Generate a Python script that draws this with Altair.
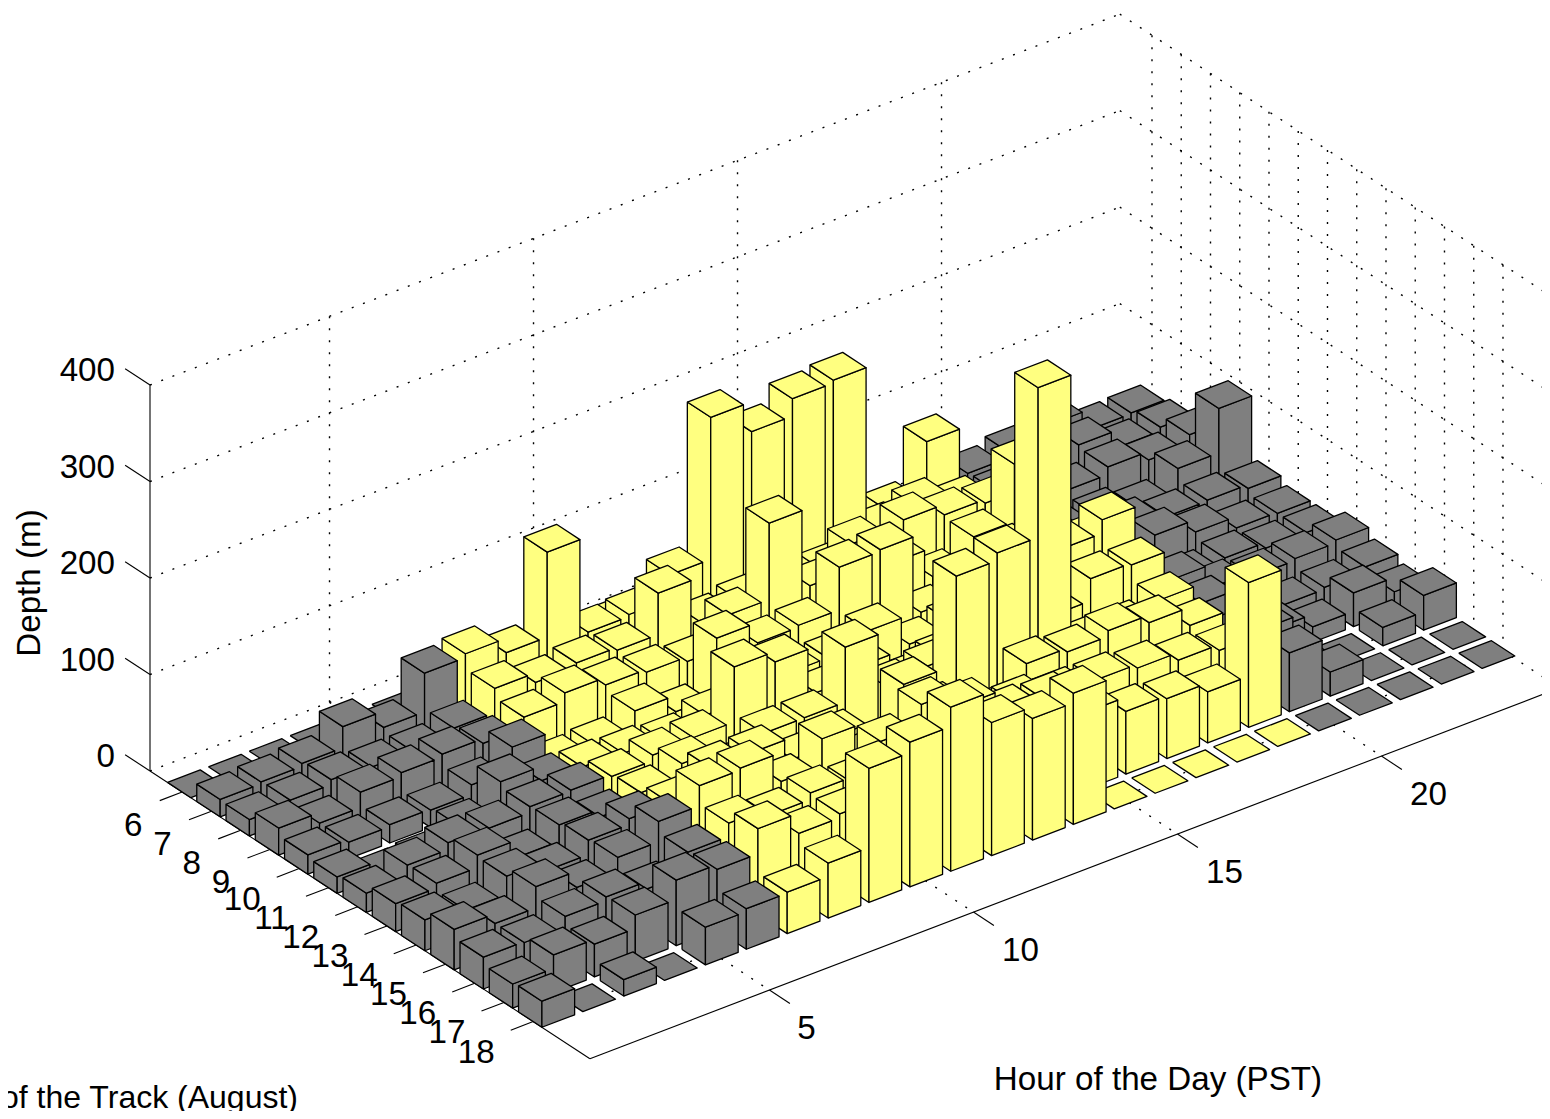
import altair as alt
import pandas as pd

alt.data_transformers.disable_max_rows()

# Depth (m): one list per day of the track, hours 1 to 24
days = list(range(6, 19))
hours = list(range(1, 25))
d06 = [0,0,0,0,0,0, 8,19,14,19,14,14,14,14,14,8,14,24,78, 29,35,47,26,27]
d07 = [18,20,23,45,28,68, 72,57,145,46,48,73,220,189,207,210,39,48,34, 30,29,46,28,32]
d08 = [17,21,26,23,23,31, 56,46,50,47,90,45,50,45,50,45,69,58,54, 29,35,43,34,44]
d09 = [28,17,33,37,40,35, 46,55,47,44,39,71,150,69,96,60,30,55,114, 29,29,21,45,91]
d10 = [20,17,19,18,28,51, 19,21,40,23,83,62,64,108,110,29,39,60,60, 29,39,31,32,28]
d11 = [17,2,4,21,51,36, 34,32,29,39,60,50,50,62,32,39,50,60,71, 39,48,35,23,22]
d12 = [20,33,40,39,45,46, 44,50,52,109,98,50,60,29,39,39,50,102,116, 29,24,28,22,22]
d13 = [29,34,47,29,46,38, 47,61,39,60,60,117,60,65,39,39,68,91,89, 58,34,29,31,34]
d14 = [32,26,45,35,50,56, 56,76,76,53,60,34,50,178,186,341,60,60,73, 53,39,19,21,26]
d15 = [42,32,54,37,52,73, 94,96,66,94,60,118,71,55,91,87,93,85,66, 39,29,16,35,20]
d16 = [33,32,43,47,39,61, 75,67,74,69,91,112,91,87,79,78,74,66,60, 65,3,0,19,36]
d17 = [25,39,34,48,68,63, 89,68,72,131,153,136,113,110,80,65,62,53,150, 61,25,0,0,0]
d18 = [27,0,17,0,39,42, 43,57,139,150,170,138,126,136,0,0,0,0,0, 0,0,0,0,0]
depths = [d06, d07, d08, d09, d10, d11, d12, d13, d14, d15, d16, d17, d18]

sunlit_hours = range(7, 20)
hour_ticks = [5, 10, 15, 20]
depth_ticks = [0, 100, 200, 300, 400]

H0, H1 = 0.6, 24.37
D0, D1 = 4.9, 19.94
Z1 = 400
HALF = 0.4
GRAY, YELLOW = "#7f7f7f", "#ffff80"


def sx(h, d, z=0):
    return 150 + 40.8 * (h - H0) + 29.25 * (d - D0)


def sy(h, d, z=0):
    return 771 - 15.6 * (h - H0) + 19.13 * (d - D0) - 0.965 * z


# Faces of the bars, far to near
rows = []
face = 0


def add_face(corners, colour):
    global face
    for i, (h, d, z) in enumerate(list(corners) + [corners[0]]):
        rows.append({
            "face": f"{face:05d}", "i": i,
            "px": sx(h, d, z) - 3 + 0.08 * h,
            "py": sy(h, d, z) - 2,
            "c": colour,
        })
    face += 1


for di, d in enumerate(days):
    for h in reversed(hours):
        z = depths[di][h - 1]
        c = "y" if h in sunlit_hours else "g"
        a, b = h - HALF, h + HALF
        p, q = d - HALF, d + HALF
        if z > 0:
            add_face([(a, p, 0), (a, q, 0), (a, q, z), (a, p, z)], c)
            add_face([(a, q, 0), (b, q, 0), (b, q, z), (a, q, z)], c)
        add_face([(a, p, z), (b, p, z), (b, q, z), (a, q, z)], c)
bars = pd.DataFrame(rows)

# Axes and grid, as segments in the same projection
solid, dotted = [], []


def seg(store, a, b):
    store.append({"x": sx(*a), "y": sy(*a), "x2": sx(*b), "y2": sy(*b)})


seg(solid, (H0, D0, 0), (H0, D0, Z1))
seg(solid, (H0, D0, 0), (H0, D1, 0))
seg(solid, (H0, D1, 0), (H1, D1, 0))
for z in depth_ticks:
    seg(dotted, (H0, D0, z), (H1, D0, z))
    seg(dotted, (H1, D0, z), (H1, D1, z))
    seg(solid, (H0, D0, z), (H0, D0 - 0.85, z))
for h in hour_ticks:
    seg(dotted, (h, D0, 0), (h, D0, Z1))
    seg(dotted, (h, D0, 0), (h, D1, 0))
    seg(solid, (h, D1, 0), (h, D1 + 0.7, 0))
for d in days:
    seg(dotted, (H1, d, 0), (H1, d, Z1))
    seg(dotted, (H0, d, 0), (H1, d, 0))
    seg(solid, (H0, d, 0), (H0 - 0.55, d, 0))

labels = []
for z in depth_ticks:
    labels.append({"t": str(z), "x": 115 - 0, "y": sy(H0, D0, z) - 14, "a": "right"})
for h in hour_ticks:
    off = 37 if h == 5 else 47
    labels.append({"t": str(h), "x": sx(h, D1) + off, "y": sy(h, D1) + 39, "a": "center"})
for d in days:
    ox, oy = (-49, 34) if d < 10 else (-57, 31)
    labels.append({"t": str(d), "x": sx(H0, d) + ox, "y": sy(H0, d) + oy, "a": "center"})
labels = pd.DataFrame(labels)

titles = pd.DataFrame([
    {"t": "Hour of the Day (PST)", "x": 1158, "y": 1080},
])
FONT = "Liberation Sans"
SIZE = 33.2

X = alt.X("x:Q", axis=None, scale=alt.Scale(domain=[8, 1542], zero=False, nice=False))
Y = alt.Y("y:Q", axis=None, scale=alt.Scale(domain=[1111, 8], zero=False, nice=False))

dot_layer = alt.Chart(pd.DataFrame(dotted)).mark_rule(
    color="black", strokeWidth=1.4, strokeDash=[2, 10]
).encode(X, Y, x2="x2:Q", y2="y2:Q")
solid_layer = alt.Chart(pd.DataFrame(solid)).mark_rule(
    color="black", strokeWidth=1.1
).encode(X, Y, x2="x2:Q", y2="y2:Q")
bar_layer = alt.Chart(bars).mark_line(
    filled=True, stroke="black", strokeWidth=1.3, strokeJoin="round"
).encode(
    alt.X("px:Q", axis=None, scale=alt.Scale(domain=[8, 1542], zero=False, nice=False)),
    alt.Y("py:Q", axis=None, scale=alt.Scale(domain=[1111, 8], zero=False, nice=False)),
    detail="face:N",
    order="i:Q",
    fill=alt.Fill("c:N", legend=None, scale=alt.Scale(domain=["g", "y"], range=[GRAY, YELLOW])),
)
num_right = alt.Chart(labels[labels.a == "right"]).mark_text(
    font=FONT, fontSize=SIZE, align="right", baseline="middle", color="black"
).encode(X, Y, text="t:N")
num_center = alt.Chart(labels[labels.a == "center"]).mark_text(
    font=FONT, fontSize=SIZE, align="center", baseline="middle", color="black"
).encode(X, Y, text="t:N")
hour_title = alt.Chart(titles).mark_text(
    font=FONT, fontSize=SIZE, align="center", baseline="middle", color="black"
).encode(X, Y, text="t:N")
depth_title = alt.Chart(pd.DataFrame([{"t": "Depth (m)", "x": 30, "y": 583}])).mark_text(
    font=FONT, fontSize=SIZE, align="center", baseline="middle", angle=270, color="black"
).encode(X, Y, text="t:N")
day_title = alt.Chart(pd.DataFrame([{"t": "Day of the Track (August)", "x": 298, "y": 1098}])).mark_text(
    font=FONT, fontSize=32, align="right", baseline="middle", color="black"
).encode(X, Y, text="t:N")

chart = alt.layer(
    dot_layer, solid_layer, bar_layer, num_right, num_center, hour_title, depth_title, day_title
).properties(
    width=1534, height=1103, padding=0, autosize=alt.AutoSizeParams(type="none")
).configure_view(stroke=None)

chart.save("out.html", embed_options={"renderer": "svg", "actions": False})
